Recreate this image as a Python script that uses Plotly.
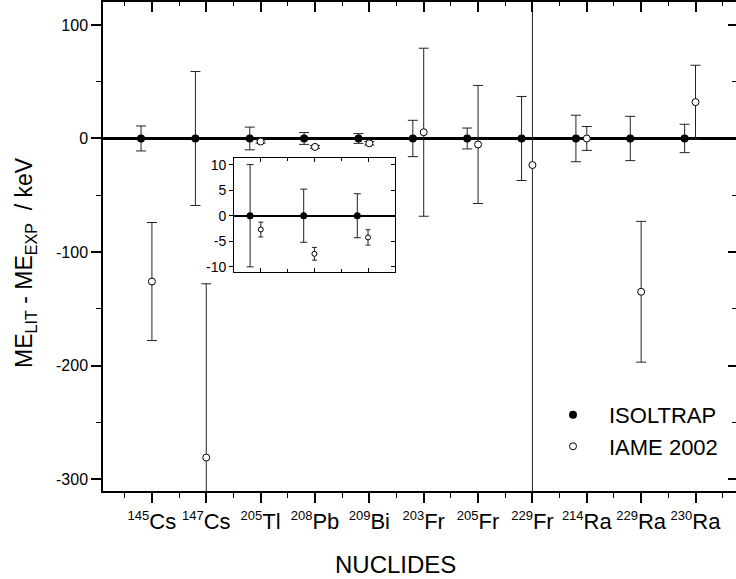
import plotly.graph_objects as go

# ---- data ----
masses = [145, 147, 205, 208, 209, 203, 205, 229, 214, 229, 230]
elements = ["Cs", "Cs", "Tl", "Pb", "Bi", "Fr", "Fr", "Fr", "Ra", "Ra", "Ra"]
isoltrap_val = [0, 0, 0, 0, 0, 0, 0, 0, 0, 0, 0]
isoltrap_err = [11, 59, 10, 5.2, 4.3, 16, 9.2, 37, 20.5, 19.5, 12.5]
iame_val = [-126, -281, -2.7, -7.45, -4.25, 5.5, -5.3, -23.4, 0, -135, 32]
iame_err = [52, 153, 1.45, 1.25, 1.5, 74, 52, 600, 10.5, 62, 32.5]
inset_idx = [2, 3, 4]
y_ticks = [-300, -200, -100, 0, 100]
y_ticklabels = ["-300", "-200", "-100", "0", "100"]
y_minor = [-250, -150, -50, 50]
inset_ticks = [-10, -5, 0, 5, 10]
inset_ticklabels = ["-10", "-5", "0", "5", "10"]

idx = list(range(len(masses)))
shift = 0.2
x_iso = [i - shift for i in idx]
ticktext = [f"<sup><span style='font-size:13px'>{m}</span></sup>{e}" for m, e in zip(masses, elements)]
x_minor = [i + 0.5 for i in range(-1, len(masses))]

FONT = "Liberation Sans, Arial, Helvetica, sans-serif"
ERRC = "#222222"

fig = go.Figure()

# main traces
fig.add_trace(go.Scatter(
    x=x_iso, y=isoltrap_val, mode="markers", name="ISOLTRAP",
    marker=dict(symbol="circle", size=8, color="black", line=dict(width=0)),
    error_y=dict(type="data", array=isoltrap_err, visible=True, color=ERRC, thickness=1, width=5),
    xaxis="x", yaxis="y", cliponaxis=True))
fig.add_trace(go.Scatter(
    x=idx, y=iame_val, mode="markers", name="IAME 2002",
    marker=dict(symbol="circle", size=7, color="white", line=dict(width=1, color="black")),
    error_y=dict(type="data", array=iame_err, visible=True, color=ERRC, thickness=1, width=5),
    xaxis="x", yaxis="y", cliponaxis=True))

# inset traces
fig.add_trace(go.Scatter(
    x=[x_iso[i] for i in inset_idx], y=[isoltrap_val[i] for i in inset_idx], mode="markers",
    showlegend=False,
    marker=dict(symbol="circle", size=7, color="black", line=dict(width=0)),
    error_y=dict(type="data", array=[isoltrap_err[i] for i in inset_idx], visible=True,
                 color=ERRC, thickness=1, width=3.5),
    xaxis="x3", yaxis="y3"))
fig.add_trace(go.Scatter(
    x=[idx[i] for i in inset_idx], y=[iame_val[i] for i in inset_idx], mode="markers",
    showlegend=False,
    marker=dict(symbol="circle", size=5, color="white", line=dict(width=1, color="black")),
    error_y=dict(type="data", array=[iame_err[i] for i in inset_idx], visible=True,
                 color=ERRC, thickness=1, width=2.5),
    xaxis="x3", yaxis="y3"))

# dummy traces for mirrored axes
fig.add_trace(go.Scatter(x=[None], y=[None], xaxis="x2", yaxis="y", showlegend=False, hoverinfo="skip"))
fig.add_trace(go.Scatter(x=[None], y=[None], xaxis="x", yaxis="y2", showlegend=False, hoverinfo="skip"))
fig.add_trace(go.Scatter(x=[None], y=[None], xaxis="x3", yaxis="y4", showlegend=False, hoverinfo="skip"))

xr = [-0.9, 10.745]
yr = [-310.5, 120.2]
ir_x = [1.5, 4.5]
ir_y = [-11, 11.2]

fig.update_layout(
    width=736, height=579,
    margin=dict(l=103, r=0, t=0, b=88),
    paper_bgcolor="white", plot_bgcolor="white",
    font=dict(family=FONT, color="black"),
    showlegend=True,
    legend=dict(x=(537 - 103) / 633, y=0.123, xanchor="left", yanchor="middle",
                font=dict(size=22, family=FONT), bgcolor="rgba(0,0,0,0)",
                itemwidth=62, tracegroupgap=0),
    xaxis=dict(range=xr, domain=[0, 1], anchor="y", tickmode="array", tickvals=idx, ticktext=ticktext,
               ticks="outside", ticklen=10, tickwidth=1.5, tickcolor="black", tickangle=0,
               minor=dict(tickvals=x_minor, ticks="outside", ticklen=5, tickwidth=1, tickcolor="black"),
               showline=True, linecolor="black", linewidth=1.5, showgrid=False, zeroline=False,
               tickfont=dict(size=22, family=FONT)),
    xaxis2=dict(range=xr, overlaying="x", side="top", anchor="y", tickmode="array", tickvals=idx,
                ticks="inside", ticklen=10, tickwidth=1.5, tickcolor="black",
                minor=dict(tickvals=x_minor, ticks="inside", ticklen=4, tickwidth=1, tickcolor="black"),
                showticklabels=False, showline=True, linecolor="black", linewidth=1.5,
                showgrid=False, zeroline=False),
    yaxis=dict(range=yr, domain=[0, 1], anchor="x", tickmode="array", tickvals=y_ticks,
               ticktext=y_ticklabels,
               ticks="outside", ticklen=10, tickwidth=1.5, tickcolor="black",
               minor=dict(tickvals=y_minor, ticks="outside", ticklen=5, tickwidth=1, tickcolor="black"),
               showline=True, linecolor="black", linewidth=1.5, showgrid=False,
               zeroline=True, zerolinecolor="black", zerolinewidth=2.5,
               tickfont=dict(size=16, family=FONT)),
    yaxis2=dict(range=yr, overlaying="y", side="right", anchor="x", tickmode="array", tickvals=y_ticks,
                ticks="inside", ticklen=8, tickwidth=1.5, tickcolor="black",
                minor=dict(tickvals=y_minor, ticks="inside", ticklen=4, tickwidth=1, tickcolor="black"),
                showticklabels=False, showline=False, showgrid=False, zeroline=False),
    xaxis3=dict(range=ir_x, domain=[0.207, 0.461], anchor="y3", tickmode="array", tickvals=inset_idx,
                ticks="inside", ticklen=4, tickwidth=1, tickcolor="black", mirror="ticks",
                minor=dict(tickvals=[2.5, 3.5], ticks="inside", ticklen=3, tickwidth=1, tickcolor="black"),
                showticklabels=False, showline=True, linecolor="black", linewidth=1,
                showgrid=False, zeroline=False),
    yaxis3=dict(range=ir_y, domain=[0.448, 0.680], anchor="x3", tickmode="array", tickvals=inset_ticks,
                ticktext=inset_ticklabels,
                ticks="outside", ticklen=4, tickwidth=1, tickcolor="black", mirror=True,
                showline=True, linecolor="black", linewidth=1, showgrid=False,
                zeroline=True, zerolinecolor="black", zerolinewidth=1.5,
                tickfont=dict(size=14, family=FONT)),
    yaxis4=dict(range=ir_y, overlaying="y3", side="right", anchor="x3", tickmode="array",
                tickvals=inset_ticks, ticks="inside", ticklen=4, tickwidth=1, tickcolor="black",
                showticklabels=False, showline=False, showgrid=False, zeroline=False),
)

fig.add_annotation(text="NUCLIDES", xref="paper", yref="paper", x=(395.5 - 103) / 633,
                   y=(491 - 565) / 491,
                   xanchor="center", yanchor="middle", showarrow=False,
                   font=dict(size=24, family=FONT))
fig.add_annotation(text="ME<sub>LIT</sub> - ME<sub>EXP</sub>\u00a0\u00a0/ keV", xref="paper", yref="paper",
                   x=(26 - 103) / 633, y=1 - 262 / 491, xanchor="center", yanchor="middle",
                   textangle=-90, showarrow=False, font=dict(size=23, family=FONT))

fig.write_html("out.html")
